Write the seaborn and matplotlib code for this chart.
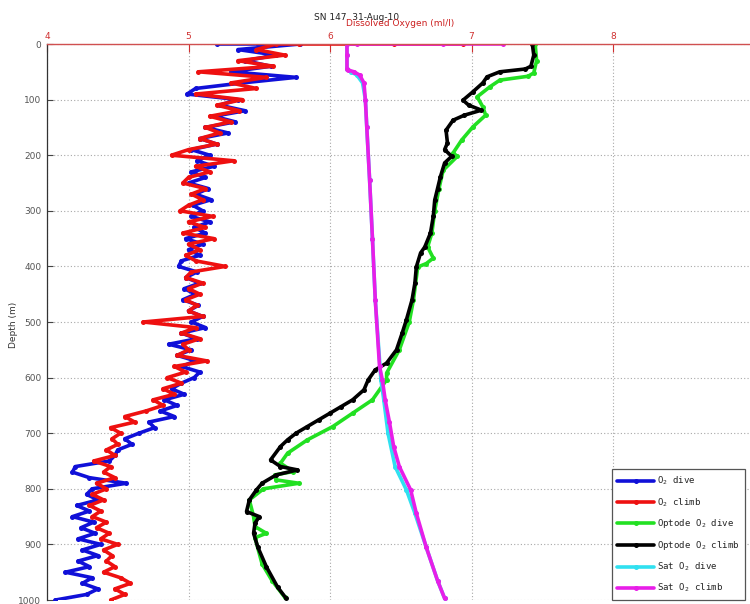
import numpy as np
import pandas as pd
import matplotlib
matplotlib.use("Agg")
import matplotlib.pyplot as plt
import seaborn as sns

# ---------------- data ----------------
# Dissolved oxygen, dive profile (10 m bins), with the surface readings first
o2_dive_depth = [0, 0] + list(range(0, 1001, 10))
o2_dive = [5.20, 5.49,
           5.79, 5.35, 5.62, 5.40, 5.58, 5.30, 5.76, 5.38, 5.05, 4.99,
           5.35, 5.22, 5.40, 5.18, 5.33, 5.12, 5.28, 5.08, 5.20, 5.02,
           5.15, 5.06, 5.18, 5.02, 5.12, 5.00, 5.14, 5.05, 5.16, 5.03,
           5.10, 5.02, 5.15, 5.04, 5.12, 4.98, 5.10, 5.00, 5.08, 4.95,
           4.93, 5.06, 4.98, 5.08, 4.97, 5.05, 4.96, 5.07, 5.00, 5.10,
           5.02, 5.12, 4.95, 5.06, 4.86, 5.02, 4.92, 5.05, 4.95, 5.08,
           5.04, 4.95, 4.88, 4.97, 4.83, 4.92, 4.80, 4.90, 4.72, 4.76,
           4.65, 4.55, 4.60, 4.50, 4.48, 4.44, 4.20, 4.18, 4.30, 4.56,
           4.32, 4.28, 4.36, 4.21, 4.30, 4.18, 4.33, 4.24, 4.34, 4.22,
           4.38, 4.25, 4.36, 4.22, 4.30, 4.13, 4.32, 4.25, 4.36, 4.28,
           4.06]

# Dissolved oxygen, climb profile
o2_climb_depth = [0, 0, 0] + list(range(0, 1001, 10))
o2_climb = [6.94, 6.45, 5.78,
            5.62, 5.48, 5.68, 5.35, 5.60, 5.07, 5.55, 5.30, 5.48, 5.05,
            5.38, 5.20, 5.36, 5.15, 5.30, 5.12, 5.22, 5.08, 5.20, 5.00,
            4.88, 5.32, 5.05, 5.15, 5.00, 4.96, 5.12, 5.02, 5.10, 5.00,
            4.94, 5.17, 5.00, 5.12, 4.96, 5.18, 5.00, 5.08, 4.98, 5.05,
            5.26, 5.02, 4.98, 5.10, 5.00, 5.08, 4.98, 5.06, 5.00, 5.10,
            4.68, 5.05, 4.95, 5.08, 4.96, 5.00, 4.92, 5.13, 4.90, 4.98,
            4.85, 4.95, 4.82, 4.90, 4.75, 4.82, 4.70, 4.55, 4.62, 4.45,
            4.52, 4.46, 4.50, 4.42, 4.48, 4.33, 4.45, 4.40, 4.48, 4.35,
            4.42, 4.32, 4.40, 4.30, 4.38, 4.32, 4.42, 4.35, 4.44, 4.38,
            4.50, 4.40, 4.46, 4.42, 4.48, 4.40, 4.52, 4.59, 4.48, 4.55,
            4.45]

# Optode oxygen, dive
optode_dive_depth = [0, 30, 52, 58, 65, 77, 95, 113, 128, 149, 173, 196, 202,
                     227, 260, 300, 340, 365, 385, 395, 401, 460, 500, 550,
                     592, 604, 640, 664, 688, 712, 736, 754, 769, 775, 784,
                     790, 800, 820, 850, 868, 880, 888, 935, 965, 995]
optode_dive = [7.45, 7.46, 7.44, 7.40, 7.20, 7.13, 7.04, 7.08, 7.10, 7.01,
               6.93, 6.87, 6.90, 6.80, 6.77, 6.74, 6.72, 6.69, 6.73, 6.68,
               6.62, 6.59, 6.56, 6.49, 6.40, 6.40, 6.30, 6.16, 6.02, 5.84,
               5.70, 5.65, 5.74, 5.61, 5.62, 5.78, 5.53, 5.43, 5.46, 5.47,
               5.55, 5.47, 5.52, 5.59, 5.68]

# Optode oxygen, climb
optode_climb_depth = [0, 20, 40, 45, 50, 59, 70, 86, 101, 110, 119, 128, 137,
                      155, 178, 190, 202, 214, 239, 260, 281, 310, 340, 365,
                      376, 401, 430, 460, 496, 520, 550, 574, 586, 604, 622,
                      640, 652, 664, 676, 688, 700, 712, 724, 748, 760, 766,
                      775, 790, 802, 820, 841, 850, 862, 880, 905, 940, 977,
                      997]
optode_climb = [7.43, 7.44, 7.42, 7.38, 7.20, 7.11, 7.08, 7.01, 6.94, 6.98,
                7.07, 6.95, 6.87, 6.82, 6.83, 6.81, 6.86, 6.81, 6.78, 6.76,
                6.74, 6.73, 6.71, 6.67, 6.64, 6.61, 6.60, 6.58, 6.54, 6.51,
                6.47, 6.40, 6.32, 6.27, 6.24, 6.16, 6.08, 6.00, 5.92, 5.84,
                5.76, 5.70, 5.65, 5.58, 5.65, 5.77, 5.62, 5.52, 5.48, 5.43,
                5.41, 5.50, 5.47, 5.46, 5.49, 5.55, 5.63, 5.69]

# Saturation oxygen, dive
sat_dive_depth = [0, 20, 45, 50, 56, 70, 100, 150, 245, 350, 460, 604, 640,
                  700, 760, 802, 844, 905, 965, 997]
sat_dive = [6.12, 6.12, 6.12, 6.15, 6.19, 6.23, 6.25, 6.26, 6.28, 6.30,
            6.32, 6.36, 6.38, 6.41, 6.46, 6.54, 6.60, 6.68, 6.76, 6.81]

# Saturation oxygen, climb (surface readings first)
sat_climb_depth = [0, 0, 0, 0, 20, 45, 47, 50, 56, 70, 100, 150, 245, 350,
                   460, 580, 604, 640, 680, 724, 760, 802, 844, 905, 965, 997]
sat_climb = [7.22, 6.80, 6.19, 6.12, 6.12, 6.12, 6.13, 6.17, 6.21, 6.24,
             6.25, 6.26, 6.28, 6.30, 6.32, 6.35, 6.37, 6.39, 6.42, 6.45,
             6.49, 6.57, 6.61, 6.68, 6.76, 6.81]

series_names = ["O$_2$ dive", "O$_2$ climb", "Optode O$_2$ dive",
                "Optode O$_2$ climb", "Sat O$_2$ dive", "Sat O$_2$ climb"]
series_x = [o2_dive, o2_climb, optode_dive, optode_climb, sat_dive, sat_climb]
series_y = [o2_dive_depth, o2_climb_depth, optode_dive_depth,
            optode_climb_depth, sat_dive_depth, sat_climb_depth]
series_colors = ["#1010d8", "#ee1010", "#22e022", "#000000", "#30e0f0",
                 "#e81ee8"]

x_ticks = [4, 5, 6, 7, 8]
y_ticks = list(range(0, 1001, 100))

# ---------------- style ----------------
sns.set_style("white")
plt.rcParams["font.family"] = ["DejaVu Sans"]
plt.rcParams["mathtext.fontset"] = "custom"
plt.rcParams["mathtext.rm"] = "DejaVu Sans Mono"
plt.rcParams["mathtext.it"] = "DejaVu Sans Mono"
plt.rcParams["mathtext.default"] = "rm"

fig = plt.figure(figsize=(7.5, 6.04), dpi=100)
ax = fig.add_axes([47 / 750, 4 / 604, 703 / 750, 556 / 604])

for name, xs, ys, col in zip(series_names, series_x, series_y, series_colors):
    df = pd.DataFrame({"oxygen": xs, "depth": ys})
    sns.lineplot(data=df, x="oxygen", y="depth", sort=False, estimator=None,
                 color=col, lw=2.6, marker="o", markersize=3.6,
                 markeredgewidth=0, label=name, ax=ax)

ax.set_xlim(4, 4 + 703 / 141.5)
ax.set_ylim(1000, 0)

# Axis on top, red
ax.xaxis.tick_top()
ax.set_xticks(x_ticks)
ax.set_xticklabels([str(t) for t in x_ticks])
ax.tick_params(axis="x", which="both", direction="in", length=6, width=0.8,
               colors="#d03030", labelsize=6.5, pad=2,
               top=True, bottom=False)
ax.set_yticks(y_ticks)
ax.tick_params(axis="y", direction="in", length=4, width=0.8,
               colors="#444444", labelsize=6.5, pad=4, left=True)
for lab in ax.get_yticklabels():
    lab.set_color("#555555")

ax.grid(True, which="major", linestyle=(0, (1, 2)), color="#a8a8a8", lw=0.8)
ax.set_axisbelow(True)

ax.spines["top"].set_color("#d05050")
ax.spines["top"].set_linewidth(1.0)
ax.spines["left"].set_color("#333333")
ax.spines["left"].set_linewidth(0.9)
ax.spines["right"].set_visible(False)
ax.spines["bottom"].set_visible(False)

ax.set_xlabel("")
ax.set_ylabel("")
fig.text(13 / 750, 1 - 325 / 604, "Depth (m)", rotation=90, ha="center",
         va="center", fontsize=6.5, color="#333333")

fig.text(357 / 750, 1 - 17 / 604, "SN 147  31-Aug-10", ha="center",
         va="center", fontsize=6.5, color="#222222")
fig.text(400 / 750, 1 - 23 / 604, "Dissolved Oxygen (ml/l)", ha="center",
         va="center", fontsize=6.5, color="#cc2020")

handles, labels = ax.get_legend_handles_labels()
leg = ax.legend(handles, labels, loc="lower right",
                bbox_to_anchor=(745 / 750, 4 / 604),
                bbox_transform=fig.transFigure, borderaxespad=0,
                prop={"family": "DejaVu Sans Mono", "size": 6.6},
                handlelength=4.0, handletextpad=0.3, labelspacing=0.95,
                borderpad=0.6, fancybox=False, framealpha=1,
                edgecolor="#555555")
leg.get_frame().set_linewidth(0.9)

fig.savefig("out.png", dpi=100)
